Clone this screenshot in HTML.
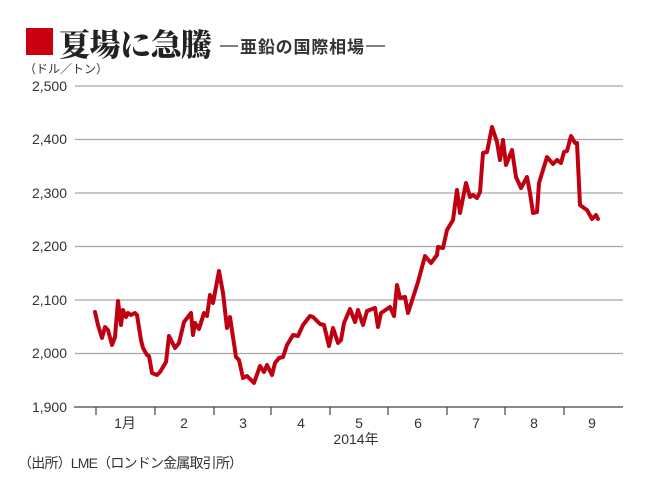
<!DOCTYPE html>
<html><head><meta charset="utf-8"><style>
body{margin:0;background:#fff;width:647px;height:488px;overflow:hidden;font-family:"Liberation Sans","Noto Sans CJK JP",sans-serif;color:#222}
svg{position:absolute;left:0;top:0}
</style></head><body>
<svg width="647" height="488" viewBox="0 0 647 488">
<rect x="26" y="28" width="27" height="27" fill="#c8000f"/>
<text x="59" y="56" font-family="'Noto Serif CJK SC','Noto Sans CJK JP',serif" font-weight="900" font-size="31" fill="#222" textLength="153">夏場に急騰</text>
<line x1="220" y1="46" x2="238" y2="46" stroke="#333" stroke-width="1.3"/>
<text x="240" y="53" font-family="'Noto Sans CJK JP',sans-serif" font-weight="bold" font-size="17" fill="#333" textLength="124">亜鉛の国際相場</text>
<line x1="366" y1="46" x2="385" y2="46" stroke="#333" stroke-width="1.3"/>
<text x="24" y="73" font-size="12" fill="#333" font-family="'Noto Sans CJK JP',sans-serif">（ドル／トン）</text>
<g stroke="#a8a8a8" stroke-width="1.2">
<line x1="75" y1="86" x2="623" y2="86"/><line x1="75" y1="139.5" x2="623" y2="139.5"/><line x1="75" y1="193" x2="623" y2="193"/><line x1="75" y1="246.5" x2="623" y2="246.5"/><line x1="75" y1="300" x2="623" y2="300"/><line x1="75" y1="353.5" x2="623" y2="353.5"/>
</g>
<line x1="74" y1="407" x2="623" y2="407" stroke="#444" stroke-width="1.2"/>
<g stroke="#444" stroke-width="1.2">
<line x1="96" y1="407" x2="96" y2="415"/><line x1="155" y1="407" x2="155" y2="415"/><line x1="214" y1="407" x2="214" y2="415"/><line x1="271" y1="407" x2="271" y2="415"/><line x1="330" y1="407" x2="330" y2="415"/><line x1="388" y1="407" x2="388" y2="415"/><line x1="447" y1="407" x2="447" y2="415"/><line x1="505" y1="407" x2="505" y2="415"/><line x1="564" y1="407" x2="564" y2="415"/>
</g>
<g font-size="14" fill="#333" text-anchor="end">
<text x="67" y="91">2,500</text><text x="67" y="144">2,400</text><text x="67" y="198">2,300</text><text x="67" y="251">2,200</text><text x="67" y="305">2,100</text><text x="67" y="358">2,000</text><text x="67" y="412">1,900</text>
</g>
<g font-size="14" fill="#333" text-anchor="middle" font-family="'Liberation Sans','Noto Sans CJK JP',sans-serif">
<text x="125" y="428">1月</text><text x="184" y="428">2</text><text x="243" y="428">3</text><text x="301" y="428">4</text><text x="359" y="428">5</text><text x="418" y="428">6</text><text x="476" y="428">7</text><text x="534" y="428">8</text><text x="592" y="428">9</text>
<text x="356" y="444">2014年</text>
</g>
<text x="18" y="468" font-size="14" fill="#333" font-family="'Liberation Sans','Noto Sans CJK JP',sans-serif" textLength="225">（出所）LME（ロンドン金属取引所）</text>
<polyline fill="none" stroke="#c00010" stroke-width="4" stroke-linejoin="round" stroke-linecap="round" points="95,312 98,325 102,338 105,327 108,330 112,345 115,337 118,301 121,325 123,310 126,317 128,313 131,315 135,313 137,315 141,340 143,348 147,355 149,356 152,373 157,375 160,372 166,362 169,336 175,348 179,343 184,322 191,313 193,335 195,323 199,329 204,313 207,316 210,295 213,303 219,271 223,293 227,328 230,317 236,357 239,360 243,378 247,376 254,383 260,366 264,372 267,365 272,375 275,363 279,358 283,357 287,345 293,335 298,336 303,325 310,316 313,317 320,324 324,325 329,346 333,328 338,343 341,340 344,323 350,309 355,322 358,310 363,325 367,311 375,308 378,327 381,313 390,307 394,316 397,285 400,298 405,297 408,313 418,282 425,256 431,263 437,255 438,247 443,248 447,230 453,220 457,190 460,213 466,183 470,197 473,195 477,198 480,192 483,153 487,152 492,127 497,142 500,160 503,140 506,165 512,150 516,177 521,188 527,177 530,193 533,213 537,212 539,183 547,157 553,164 557,160 561,163 564,152 567,151 571,136 575,143 577,143 580,205 584,208 587,210 592,219 596,215 598,219"/>
</svg>
</body></html>
